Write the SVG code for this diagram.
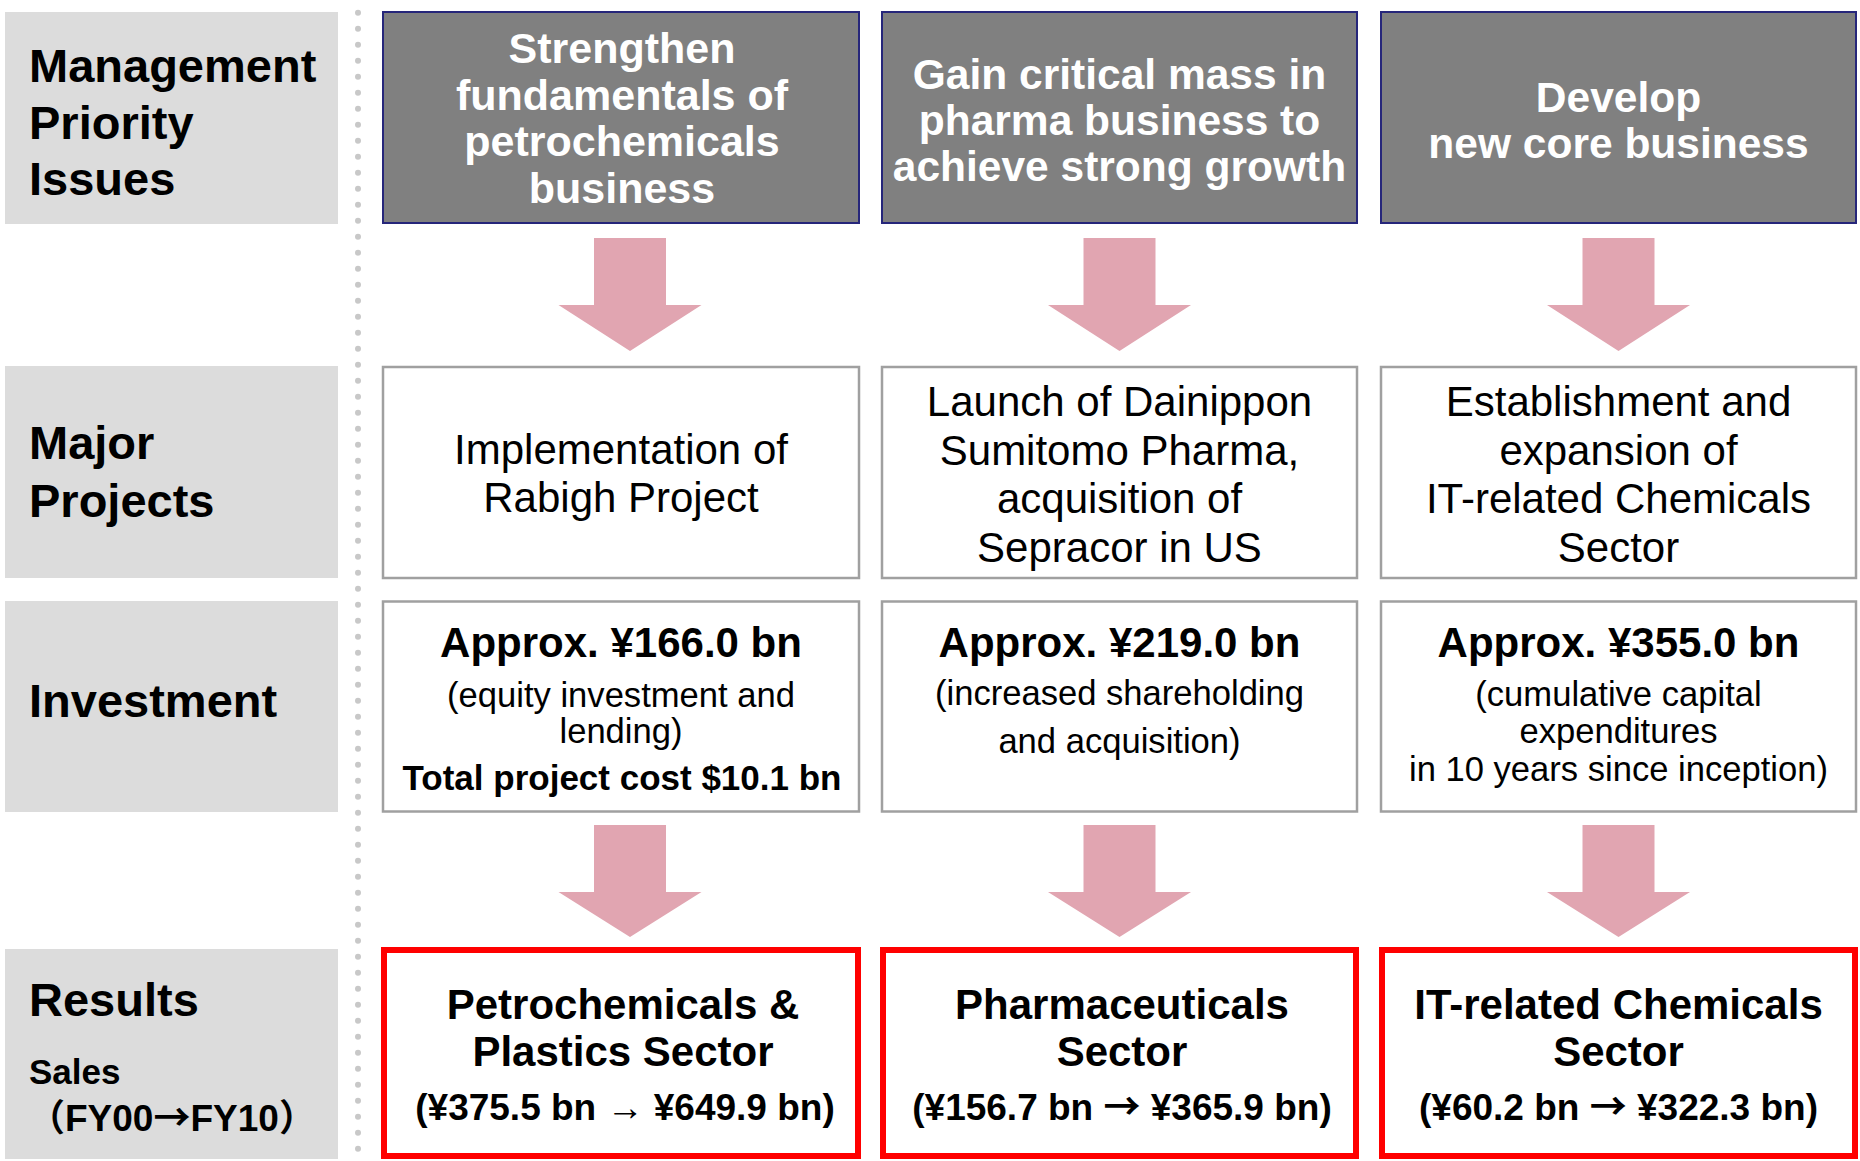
<svg xmlns="http://www.w3.org/2000/svg" width="1860" height="1161" viewBox="0 0 1860 1161">
<style>
text{font-family:"Liberation Sans",Arial,sans-serif;text-anchor:middle;fill:#000}
.lbl{fill:#dcdcdc}
.lt{font-size:47px;font-weight:bold;text-anchor:start}
.dark{fill:#808080;stroke:#26267a;stroke-width:2}
.wt{fill:#fff;font-weight:bold;font-size:42.5px}
.box{fill:#fff;stroke:#a0a0a0;stroke-width:2.5}
.red{fill:#fff;stroke:#ff0000;stroke-width:6}
.reg{font-size:42px}
.b42{font-size:42px;font-weight:bold}
.s35{font-size:34.6px}
.b35{font-size:35px;font-weight:bold}
.b37{font-size:37px;font-weight:bold}
.arr{fill:#e1a5b1}
.cjk{font-family:"Noto Sans CJK JP",sans-serif}
</style>
<rect width="1860" height="1161" fill="#fff"/>
<g id="labels">
<g id="label-priority"><rect class="lbl" x="5" y="12" width="333" height="212"/>
<text class="lt" x="29" y="82">Management</text><text class="lt" x="29" y="139">Priority</text><text class="lt" x="29" y="195">Issues</text></g>
<g id="label-projects"><rect class="lbl" x="5" y="366" width="333" height="212"/>
<text class="lt" x="29" y="459">Major</text><text class="lt" x="29" y="517">Projects</text></g>
<g id="label-investment"><rect class="lbl" x="5" y="601" width="333" height="211"/>
<text class="lt" x="29" y="717">Investment</text></g>
<g id="label-results"><rect class="lbl" x="5" y="949" width="333" height="210"/>
<text class="lt" x="29" y="1016">Results</text>
<text class="b35" style="text-anchor:start" x="29" y="1084">Sales</text>
<text class="b37" style="text-anchor:start" x="28" y="1131"><tspan class="cjk">（</tspan>FY00<tspan class="cjk">→</tspan>FY10<tspan class="cjk">）</tspan></text></g>
</g>
<line x1="358" y1="-3.3" x2="358" y2="1170" stroke="#c8c8c8" stroke-width="6" stroke-linecap="round" stroke-dasharray="0 16"/>
<g id="connectors">
<polygon class="arr" points="594,238 666,238 666,305 701.5,305 630,351 558.5,305 594,305"/>
<polygon class="arr" points="1083.5,238 1155.5,238 1155.5,305 1191,305 1119.5,351 1048,305 1083.5,305"/>
<polygon class="arr" points="1582.5,238 1654.5,238 1654.5,305 1690,305 1618.5,351 1547,305 1582.5,305"/>
<polygon class="arr" points="594,825 666,825 666,892 701.5,892 630,937 558.5,892 594,892"/>
<polygon class="arr" points="1083.5,825 1155.5,825 1155.5,892 1191,892 1119.5,937 1048,892 1083.5,892"/>
<polygon class="arr" points="1582.5,825 1654.5,825 1654.5,892 1690,892 1618.5,937 1547,892 1582.5,892"/>
</g>
<g id="issue-1"><rect class="dark" x="383" y="12" width="476" height="211"/>
<text class="wt" style="font-size:43px" x="622" y="63">Strengthen</text><text class="wt" style="font-size:43px" x="622" y="109.5">fundamentals of</text><text class="wt" style="font-size:43px" x="622" y="156">petrochemicals</text><text class="wt" style="font-size:43px" x="622" y="202.5">business</text></g>
<g id="issue-2"><rect class="dark" x="882" y="12" width="475" height="211"/>
<text class="wt" x="1119.5" y="89">Gain critical mass in</text><text class="wt" x="1119.5" y="135">pharma business to</text><text class="wt" x="1119.5" y="181">achieve strong growth</text></g>
<g id="issue-3"><rect class="dark" x="1381" y="12" width="475" height="211"/>
<text class="wt" x="1618.5" y="112">Develop</text><text class="wt" x="1618.5" y="158">new core business</text></g>
<g id="project-1"><rect class="box" x="383" y="367" width="476" height="211"/>
<text class="reg" x="621" y="463.5">Implementation of</text><text class="reg" x="621" y="511.5">Rabigh Project</text></g>
<g id="project-2"><rect class="box" x="882" y="367" width="475" height="211"/>
<text class="reg" x="1119.5" y="416">Launch of Dainippon</text><text class="reg" x="1119.5" y="464.5">Sumitomo Pharma,</text><text class="reg" x="1119.5" y="513">acquisition of</text><text class="reg" x="1119.5" y="562">Sepracor in US</text></g>
<g id="project-3"><rect class="box" x="1381" y="367" width="475" height="211"/>
<text class="reg" x="1618.5" y="416">Establishment and</text><text class="reg" x="1618.5" y="464.5">expansion of</text><text class="reg" x="1618.5" y="513">IT-related Chemicals</text><text class="reg" x="1618.5" y="562">Sector</text></g>
<g id="investment-1"><rect class="box" x="383" y="601.5" width="476" height="210"/>
<text class="b42" x="621" y="657">Approx. ¥166.0 bn</text><text class="s35" x="621" y="707">(equity investment and</text><text class="s35" x="621" y="743">lending)</text><text class="b35" x="622" y="790">Total project cost $10.1 bn</text></g>
<g id="investment-2"><rect class="box" x="882" y="601.5" width="475" height="210"/>
<text class="b42" x="1119.5" y="657">Approx. ¥219.0 bn</text><text class="s35" x="1119.5" y="705">(increased shareholding</text><text class="s35" x="1119.5" y="753">and acquisition)</text></g>
<g id="investment-3"><rect class="box" x="1381" y="601.5" width="475" height="210"/>
<text class="b42" x="1618.5" y="657">Approx. ¥355.0 bn</text><text class="s35" x="1618.5" y="706">(cumulative capital</text><text class="s35" x="1618.5" y="743">expenditures</text><text class="s35" x="1618.5" y="781">in 10 years since inception)</text></g>
<g id="result-1"><rect class="red" x="384" y="950" width="474" height="206"/>
<text class="b42" x="623" y="1019">Petrochemicals &amp;</text><text class="b42" x="623" y="1066">Plastics Sector</text><text class="b37" x="625" y="1120">(¥375.5 bn → ¥649.9 bn)</text></g>
<g id="result-2"><rect class="red" x="883" y="950" width="473" height="206"/>
<text class="b42" x="1122" y="1019">Pharmaceuticals</text><text class="b42" x="1122" y="1066">Sector</text><text class="b37" x="1122" y="1120">(¥156.7 bn <tspan class="cjk">→</tspan> ¥365.9 bn)</text></g>
<g id="result-3"><rect class="red" x="1382" y="950" width="473" height="206"/>
<text class="b42" x="1618.5" y="1019">IT-related Chemicals</text><text class="b42" x="1618.5" y="1066">Sector</text><text class="b37" x="1618.5" y="1120">(¥60.2 bn <tspan class="cjk">→</tspan> ¥322.3 bn)</text></g>
</svg>
